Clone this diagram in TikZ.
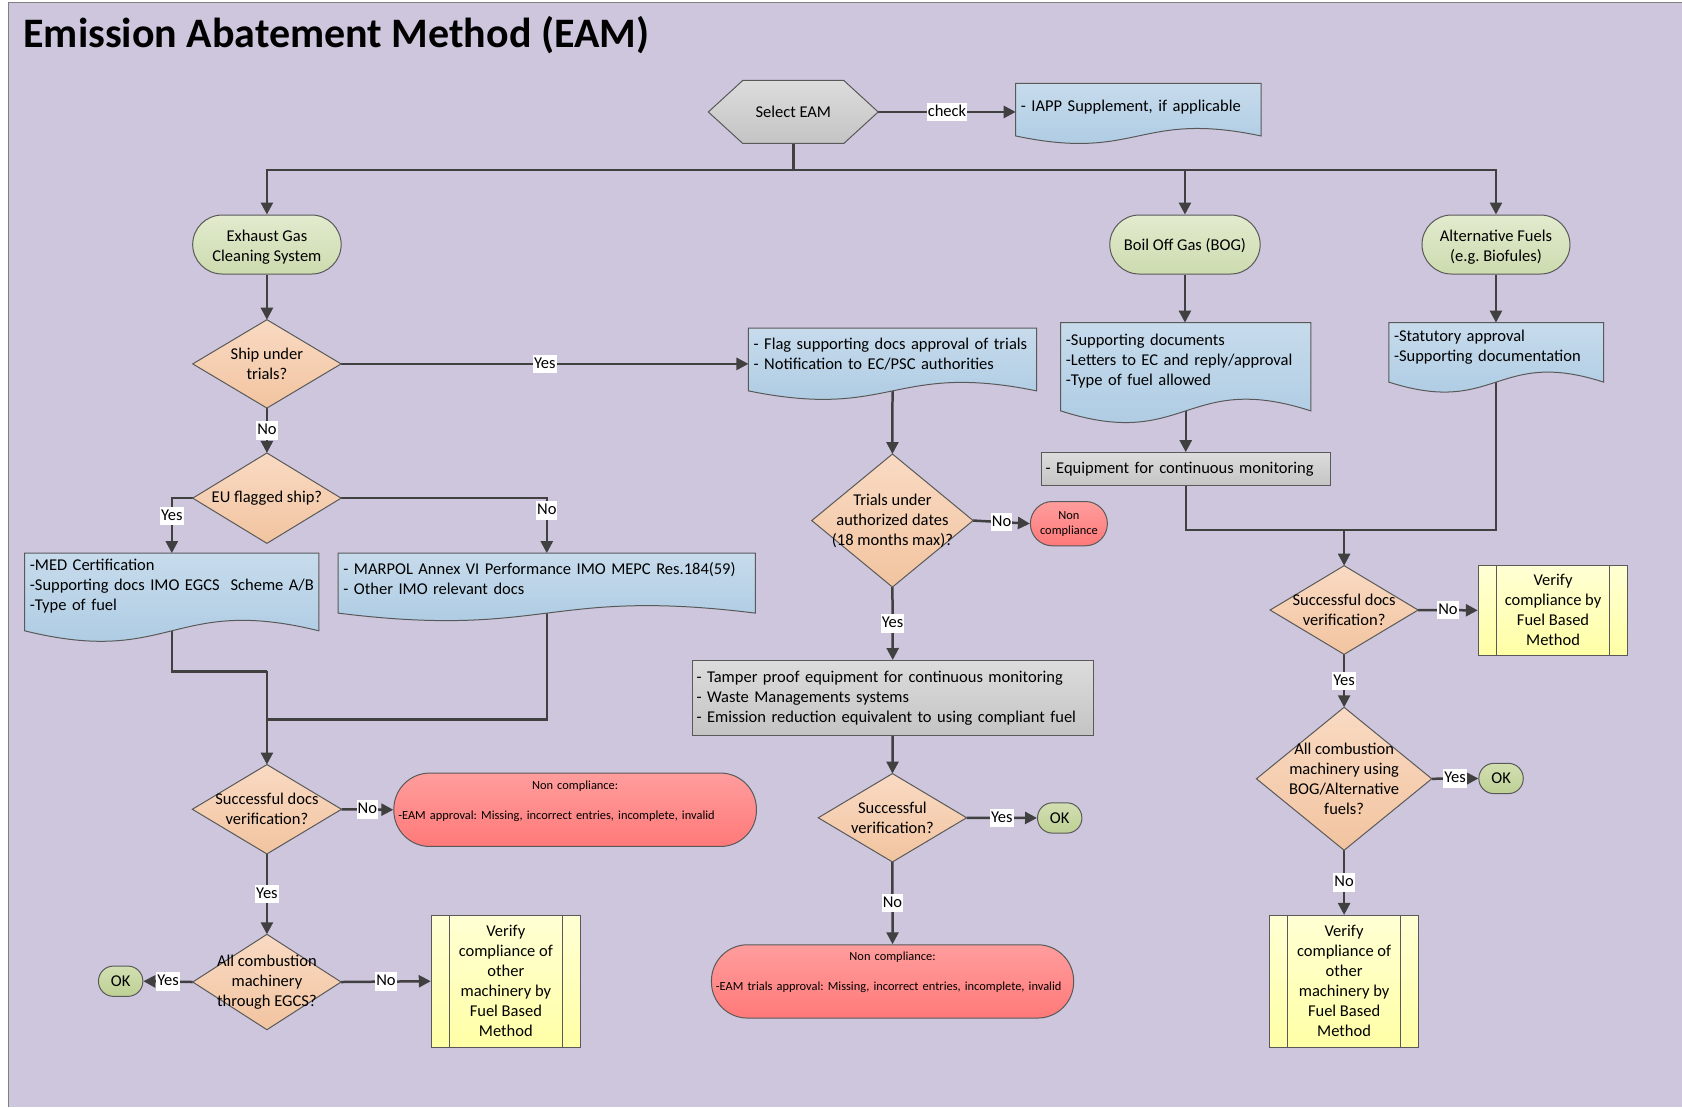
\documentclass[tikz,border=0pt]{standalone}
\usepackage{fontspec}
\setmainfont{Carlito}
\usetikzlibrary{arrows.meta,calc}
\frenchspacing

\definecolor{pagebg}{RGB}{206,198,221}
\definecolor{framegray}{RGB}{128,128,128}
\definecolor{rimgray}{RGB}{89,89,89}
\definecolor{wirecol}{RGB}{64,64,64}
\definecolor{greenT}{RGB}{226,235,206}
\definecolor{greenB}{RGB}{205,219,175}
\definecolor{okT}{RGB}{210,223,178}
\definecolor{okB}{RGB}{190,208,148}
\definecolor{orangeT}{RGB}{249,218,195}
\definecolor{orangeB}{RGB}{242,196,160}
\definecolor{blueT}{RGB}{199,219,236}
\definecolor{blueB}{RGB}{168,200,225}
\definecolor{grayT}{RGB}{220,220,220}
\definecolor{grayB}{RGB}{196,196,196}
\definecolor{redT}{RGB}{255,157,157}
\definecolor{redB}{RGB}{255,121,121}
\definecolor{yelT}{RGB}{255,255,212}
\definecolor{yelB}{RGB}{255,255,166}

\pgfdeclarelayer{backdrop}
\pgfdeclarelayer{wires}
\pgfdeclarelayer{outlines}
\pgfsetlayers{backdrop,wires,outlines,main}

% two centred lines set a little lower than the box's natural centre
\newcommand\lowpair[2]{\raisebox{-2.5pt}[\height][\depth]{\begin{tabular}{@{}c@{}}#1\\#2\end{tabular}}}

\tikzset{
  txt/.style={font=\fontsize{16.5pt}{20pt}\selectfont, text=black},
  smalltxt/.style={font=\fontsize{12.4pt}{15pt}\selectfont, text=black},
  rim/.style={draw=rimgray, line width=1pt},
  holder/.style={txt, draw=none, inner sep=0pt, align=center},
  terminal/.style={txt, rim, rounded corners=29.5pt, top color=greenT, bottom color=greenB,
    align=center, inner sep=0pt, minimum height=59pt},
  okbox/.style={txt, rim, rounded corners=15pt, top color=okT, bottom color=okB,
    minimum width=44.4pt, minimum height=30.3pt, inner sep=0pt},
  alarm/.style={smalltxt, rim, top color=redT, bottom color=redB, rounded corners=36pt,
    align=left, inner xsep=4.5pt, inner ysep=0pt},
  panel/.style={txt, rim, top color=grayT, bottom color=grayB, align=left,
    inner xsep=4.4pt, inner ysep=0pt},
  docbox/.style={txt, draw=none, anchor=north west, align=left, inner xsep=5pt,
    execute at begin node=\strut},
  proc/.style={txt, rim, top color=yelT, bottom color=yelB, align=center, inner sep=0pt,
    path picture={\draw[rimgray, line width=1pt]
      ($(path picture bounding box.north west)+(18pt,0)$) -- ($(path picture bounding box.south west)+(18pt,0)$)
      ($(path picture bounding box.north east)+(-18pt,0)$) -- ($(path picture bounding box.south east)+(-18pt,0)$);}},
  wire/.style={draw=wirecol, line width=2.5pt},
  flow/.style={wire, -{Triangle[length=12pt,width=12pt]}},
  lbl/.style={txt, fill=white, inner xsep=1pt, inner ysep=1.5pt, text height=12pt, text depth=3.5pt}
}

% document symbol: straight top and sides, one wave along the bottom
\newcommand\docoutline[3]{% node, body height, wave amplitude
  \begin{pgfonlayer}{outlines}
    \path[rim, top color=blueT, bottom color=blueB]
      (#1.north west) -- (#1.north east) -- ($(#1.north east)+(0,#2)$)
      .. controls ($(#1.north)+(0,#2-3.46*#3)$) and ($(#1.north)+(0,#2+3.46*#3)$) ..
      ($(#1.north west)+(0,#2)$) -- cycle;
  \end{pgfonlayer}}

% decision symbol drawn on the corners of its text holder
\newcommand\decision[1]{%
  \begin{pgfonlayer}{outlines}
    \path[rim, top color=orangeT, bottom color=orangeB]
      (#1.north) -- (#1.east) -- (#1.south) -- (#1.west) -- cycle;
  \end{pgfonlayer}}

\begin{document}
\begin{tikzpicture}[x=1pt, y=-1pt]

\begin{pgfonlayer}{backdrop}
  \fill[white] (0,0) rectangle (1682,1107);
  \fill[pagebg] (9,2.7) rectangle (1682,1107);
  \draw[framegray, line width=1pt] (9,1107) -- (9,2.7) -- (1682,2.7);
\end{pgfonlayer}
\useasboundingbox (0,0) rectangle (1682,1107);

\node[anchor=base west, inner sep=0pt, font=\fontsize{42pt}{50pt}\selectfont\bfseries] (title)
  at (23.2,47.5) {Emission Abatement Method (EAM)};

% ---------- top ----------
\node[holder, minimum width=169.5pt, minimum height=62.6pt] (sel) at (793.5,112) {Select EAM};
\begin{pgfonlayer}{outlines}
  \path[rim, top color=grayT, bottom color=grayB]
    ($(sel.north west)+(34.4,0)$) -- ($(sel.north east)+(-34.4,0)$) -- (sel.east)
    -- ($(sel.south east)+(-34.4,0)$) -- ($(sel.south west)+(34.4,0)$) -- (sel.west) -- cycle;
\end{pgfonlayer}
\node[docbox, text width=235pt, inner ysep=13.7pt] (iapp) at (1016,83.3) {- IAPP Supplement, if applicable};
\docoutline{iapp}{52.7}{7.5}
\coordinate (bus) at (793.5,170);

\node[terminal, minimum width=148.5pt] (egcs) at (267,244.6) {\lowpair{Exhaust Gas}{Cleaning System}};
\node[terminal, minimum width=150.4pt] (bog) at (1185.3,244.6) {\raisebox{-1pt}[\height][\depth]{Boil Off Gas (BOG)}};
\node[terminal, minimum width=148pt] (alt) at (1496.4,244.6) {\lowpair{Alternative Fuels}{(e.g. Biofules)}};

% ---------- exhaust gas cleaning branch ----------
\node[holder, minimum width=148pt, minimum height=88pt] (ship) at (267,364) {Ship under\\trials?};
\decision{ship}
\node[holder, minimum width=148pt, minimum height=90pt] (eu) at (267,498.3) {EU flagged ship?};
\decision{eu}
\node[docbox, text width=283.9pt, inner ysep=3.4pt] (med) at (24.7,553.3)
  {-MED Certification\\\mbox{-Supporting docs IMO EGCS\ \ Scheme A/B}\\-Type of fuel};
\docoutline{med}{77.7}{10.5}
\node[docbox, text width=406.9pt, inner ysep=7.4pt] (marpol) at (338.3,553.3)
  {- MARPOL Annex VI Performance IMO MEPC Res.184(59)\\- Other IMO relevant docs};
\docoutline{marpol}{60}{7.5}
\coordinate (mergeA) at (267,671.5);
\coordinate (mergeB) at (267,719.8);
\node[holder, minimum width=148.8pt, minimum height=89pt] (sdv) at (267,809.5) {Successful docs\\verification?};
\decision{sdv}
\node[alarm, minimum width=362.7pt, minimum height=73.4pt, text width=353.7pt] (ncl) at (575.3,810)
  {\makebox[353.7pt]{Non compliance:}\\[15pt]-EAM approval: Missing, incorrect entries, incomplete, invalid\\\strut};
\node[holder, minimum width=148pt, minimum height=95pt] (ac) at (267,982.3) {All combustion\\machinery\\through EGCS?};
\decision{ac}
\node[okbox] (okl) at (120.7,981.5) {OK};
\node[proc, minimum width=149.2pt, minimum height=131.6pt] (vl) at (506,981.5)
  {Verify\\compliance of\\other\\machinery by\\Fuel Based\\Method};

% ---------- trials branch ----------
\node[docbox, text width=277.8pt, inner ysep=7pt] (flag) at (748.7,328.3)
  {- Flag supporting docs approval of trials\\- Notification to EC/PSC authorities};
\docoutline{flag}{62.7}{8.5}
\node[holder, minimum width=161pt, minimum height=132.7pt] (tri) at (892.7,520.7) {Trials under\\authorized dates\\(18 months max)?};
\decision{tri}
\node[alarm, align=center, rounded corners=22pt, minimum width=77pt, minimum height=44.3pt] (ncs) at (1069.2,523.8) {Non\\compliance};
\node[panel, minimum width=401.4pt, minimum height=74.6pt, text width=392.6pt] (tamper) at (893,698)
  {- Tamper proof equipment for continuous monitoring\\- Waste Managements systems\\- Emission reduction equivalent to using compliant fuel};
\node[holder, minimum width=148pt, minimum height=88pt] (sv) at (892.7,818) {Successful\\verification?};
\decision{sv}
\node[okbox] (okm) at (1060,818.2) {OK};
\node[alarm, minimum width=362.3pt, minimum height=73.3pt, text width=353.3pt] (ncm) at (892.8,981.7)
  {\makebox[353.3pt]{Non compliance:}\\[15pt]-EAM trials approval: Missing, incorrect entries, incomplete, invalid\\\strut};

% ---------- boil off gas / alternative fuels branch ----------
\node[docbox, text width=239.8pt, inner ysep=8.3pt] (bogdoc) at (1061,322.7)
  {-Supporting documents\\-Letters to EC and reply/approval\\-Type of fuel allowed};
\docoutline{bogdoc}{88.3}{11.7}
\node[panel, minimum width=289.6pt, minimum height=33.3pt, text width=280.8pt] (equip) at (1186.4,469.4)
  {- Equipment for continuous monitoring};
\node[docbox, text width=204.4pt, inner ysep=5pt] (altdoc) at (1389.2,322.7)
  {-Statutory approval\\-Supporting documentation};
\docoutline{altdoc}{59.5}{10}
\coordinate (jn) at (1344.5,530);
\node[holder, minimum width=147.6pt, minimum height=88.3pt] (rsdv) at (1344.5,610.2) {Successful docs\\verification?};
\decision{rsdv}
\node[proc, minimum width=149.6pt, minimum height=89.6pt] (vr) at (1553.5,610.5)
  {Verify\\compliance by\\Fuel Based\\Method};
\node[holder, minimum width=175pt, minimum height=142.6pt] (ab) at (1344.5,779)
  {All combustion\\machinery using\\BOG/Alternative\\fuels?};
\decision{ab}
\node[okbox] (okr) at (1501.5,778.7) {OK};
\node[proc, minimum width=149.7pt, minimum height=131.6pt] (vb) at (1344.5,981.5)
  {Verify\\compliance of\\other\\machinery by\\Fuel Based\\Method};

% ---------- connectors ----------
\begin{pgfonlayer}{wires}
  \draw[flow] (sel.east) -- (sel.east -| iapp.west) node[lbl, midway] {check};
  \draw[wire] (sel.south) -- (bus);
  \draw[flow] (bus) -| (egcs.north);
  \draw[flow] (bus) -| (bog.north);
  \draw[flow] (bus) -| (alt.north);

  \draw[flow] (egcs.south) -- (ship.north);
  \draw[flow] (ship.east) -- (ship.east -| flag.west) node[lbl, midway] {Yes};
  \draw[flow] (ship.south) -- (eu.north) node[lbl, midway] {No};
  \draw[flow] (eu.west) -| (med.north) node[lbl, pos=0.66] {Yes};
  \draw[flow] (eu.east) -| (marpol.north) node[lbl, pos=0.61] {No};
  \draw[wire] (med.center) |- (mergeA);
  \draw[wire] (marpol.center) |- (mergeB);
  \draw[flow] (mergeA) -- (sdv.north);
  \draw[flow] (sdv.east) -- (ncl.west) node[lbl, midway] {No};
  \draw[flow] (sdv.south) -- (ac.north) node[lbl, midway] {Yes};
  \draw[flow] (ac.west) -- (okl.east) node[lbl, midway] {Yes};
  \draw[flow] (ac.east) -- (vl.west) node[lbl, midway] {No};

  \draw[flow] (flag.center) -- (tri.north);
  \draw[flow] (tri.east) -- (ncs.west) node[lbl, midway] {No};
  \draw[flow] (tri.south) -- (tamper.north) node[lbl, midway] {Yes};
  \draw[flow] (tamper.south) -- (sv.north);
  \draw[flow] (sv.east) -- (okm.west) node[lbl, midway] {Yes};
  \draw[flow] (sv.south) -- (ncm.north) node[lbl, midway] {No};

  \draw[flow] (bog.south) -- (bog.south |- bogdoc.north);
  \draw[flow] (alt.south) -- (alt.south |- altdoc.north);
  \draw[flow] (bogdoc.center) -- (bogdoc.center |- equip.north);
  \draw[wire] (equip.south) |- (jn);
  \draw[wire] (altdoc.center) |- (jn);
  \draw[flow] (jn) -- (rsdv.north);
  \draw[flow] (rsdv.east) -- (vr.west) node[lbl, midway] {No};
  \draw[flow] (rsdv.south) -- (ab.north) node[lbl, midway] {Yes};
  \draw[flow] (ab.east) -- (okr.west) node[lbl, midway] {Yes};
  \draw[flow] (ab.south) -- (vb.north) node[lbl, midway] {No};
\end{pgfonlayer}

\end{tikzpicture}
\end{document}
